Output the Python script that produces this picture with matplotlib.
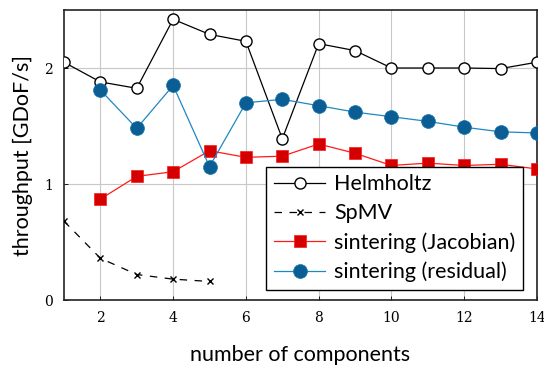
import matplotlib
matplotlib.use("Agg")
import matplotlib.pyplot as plt

# number of components
comps_helm = [1, 2, 3, 4, 5, 6, 7, 8, 9, 10, 11, 12, 13, 14]
helmholtz = [2.05, 1.88, 1.825, 2.42, 2.29, 2.23, 1.39, 2.21, 2.15, 2.00, 2.00, 2.00, 1.995, 2.05]

comps_spmv = [1, 2, 3, 4, 5]
spmv = [0.68, 0.36, 0.22, 0.18, 0.16]

comps_sint = [2, 3, 4, 5, 6, 7, 8, 9, 10, 11, 12, 13, 14]
jacobian = [0.87, 1.066, 1.106, 1.287, 1.23, 1.24, 1.345, 1.265, 1.16, 1.18, 1.16, 1.17, 1.13]
residual = [1.81, 1.48, 1.85, 1.15, 1.70, 1.73, 1.675, 1.62, 1.58, 1.54, 1.49, 1.45, 1.44]

xticks = [2, 4, 6, 8, 10, 12, 14]
yticks = [0, 1, 2]

serif = ["DejaVu Serif"]
sans = ["Lato", "DejaVu Sans"]

fig = plt.figure(figsize=(5.44, 3.65), dpi=100)
ax = fig.add_axes([0.1176, 0.178, 0.8695, 0.7946])

ax.plot(comps_helm, helmholtz, color="black", lw=0.9, marker="o", ms=8,
        mfc="white", mec="black", mew=1.0, label="Helmholtz", zorder=3)
ax.plot(comps_spmv, spmv, color="black", lw=0.9, ls=(0, (6, 6)), marker="x", ms=4,
        mew=1.0, label="SpMV", zorder=3)
ax.plot(comps_sint, jacobian, color="#ff1a1a", lw=0.9, marker="s", ms=8,
        mfc="#d40000", mec="#ff1a1a", mew=0.5, label="sintering (Jacobian)", zorder=3)
ax.plot(comps_sint, residual, color="#1f88c4", lw=0.9, marker="o", ms=10,
        mfc="#0b5e93", mec="#1a76ad", mew=0.5, label="sintering (residual)", zorder=3)

ax.set_xlim(1, 14)
ax.set_ylim(0, 2.5)
ax.set_xticks(xticks)
ax.set_yticks(yticks)
ax.grid(True, color="#c8c8c8", lw=0.8)
ax.set_axisbelow(True)
ax.tick_params(direction="in", length=3, width=0.6, labelsize=10, pad=8)
for lab in ax.get_xticklabels() + ax.get_yticklabels():
    lab.set_family(serif)
for s in ax.spines.values():
    s.set_linewidth(1.2)
    s.set_color("#222222")

ax.set_xlabel("number of components", family=sans, fontsize=15.5, labelpad=14)
ax.set_ylabel("throughput [GDoF/s]", family=sans, fontsize=15.5, labelpad=8)

leg = ax.legend(loc="lower right", bbox_to_anchor=(0.970, 0.0345), prop={"family": sans, "size": 15.5},
                frameon=True, fancybox=False, edgecolor="black", framealpha=1,
                borderpad=0.35, borderaxespad=0, handlelength=2.4, handletextpad=0.4,
                labelspacing=0.42)
leg.get_frame().set_linewidth(1.0)

fig.savefig("out.png", dpi=100)
